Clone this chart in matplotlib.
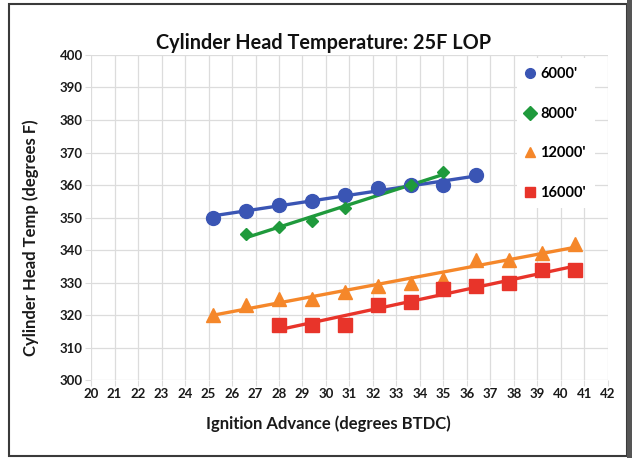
import numpy as np
import matplotlib
matplotlib.use('Agg')
import matplotlib.pyplot as plt
from matplotlib.patches import Rectangle

plt.rcParams['font.family'] = ['Lato', 'DejaVu Sans']

# ignition advance (degrees BTDC) and CHT (degrees F) per altitude
adv_6000 = [25.2, 26.6, 28.0, 29.4, 30.8, 32.2, 33.6, 35.0, 36.4]
cht_6000 = [350, 352, 354, 355, 357, 359, 360, 360, 363]

adv_8000 = [26.6, 28.0, 29.4, 30.8, 33.6, 35.0]
cht_8000 = [345, 347, 349, 353, 360, 364]

adv_12000 = [25.2, 26.6, 28.0, 29.4, 30.8, 32.2, 33.6, 35.0, 36.4, 37.8, 39.2, 40.6]
cht_12000 = [320, 323, 325, 325, 327, 329, 330, 331, 337, 337, 339, 342]

adv_16000 = [28.0, 29.4, 30.8, 32.2, 33.6, 35.0, 36.4, 37.8, 39.2, 40.6]
cht_16000 = [317, 317, 317, 323, 324, 328, 329, 330, 334, 334]

series = [
    ("6000'", adv_6000, cht_6000, '#3a55b4', 'o', 10),
    ("8000'", adv_8000, cht_8000, '#1f9a3c', 'D', 6.5),
    ("12000'", adv_12000, cht_12000, '#f5872a', '^', 10),
    ("16000'", adv_16000, cht_16000, '#e8342a', 's', 9.5),
]

fig = plt.figure(figsize=(6.32, 4.58), dpi=100)
ax = fig.add_axes([0.144, 0.170, 0.818, 0.710])

for label, x, y, color, marker, ms in series:
    x = np.array(x)
    y = np.array(y)
    # linear trendline through each series
    slope, icpt = np.polyfit(x, y, 1)
    ax.plot(x, slope * x + icpt, color=color, linewidth=2.4, zorder=2)
    ax.plot(x, y, linestyle='none', marker=marker, markersize=ms,
            color=color, label=label, zorder=3)

ax.set_xlim(20, 42)
ax.set_ylim(300, 400)
ax.set_xticks(range(20, 43))
ax.set_yticks(range(300, 401, 10))
ax.grid(True, color='#dcdcdc', linewidth=0.9, zorder=0)
ax.set_axisbelow(True)
for s in ax.spines.values():
    s.set_visible(False)
ax.tick_params(axis='both', length=4, color='#dcdcdc', labelsize=9.5, pad=2)
for t in ax.get_xticklabels() + ax.get_yticklabels():
    t.set_fontweight('bold')
    t.set_color('#1a1a1a')

ax.set_xlabel('Ignition Advance (degrees BTDC)', fontsize=12,
              fontweight='bold', color='#1a1a1a')
ax.xaxis.set_label_coords(0.46, -0.11)
ax.set_ylabel('Cylinder Head Temp (degrees F)', fontsize=12,
              fontweight='bold', color='#1a1a1a')
ax.yaxis.set_label_coords(-0.10, 0.437)
ax.set_title('Cylinder Head Temperature: 25F LOP', fontsize=14.3,
             fontweight='bold', color='#111111', x=0.45, y=0.992)

leg = ax.legend(loc='upper left', bbox_to_anchor=(0.81, 1.012), frameon=True,
                facecolor='white', edgecolor='none', framealpha=1,
                labelspacing=1.75, handlelength=0.6, handletextpad=0.4,
                borderpad=0.6, prop={'weight': 'bold', 'size': 10.5})
leg.set_zorder(5)
for h in leg.legend_handles:
    h.set_markersize(7)

# outer frame around the figure, with a darker edge on the right
fig.patches.append(Rectangle((0.0142, 0.0044), 0.978, 0.987, transform=fig.transFigure,
                             fill=False, edgecolor='#3a3a3a', linewidth=1.5))
fig.patches.append(Rectangle((0.992, 0.0), 0.008, 1.0, transform=fig.transFigure,
                             facecolor='#555555', edgecolor='none'))

fig.savefig('out.png', dpi=100)
